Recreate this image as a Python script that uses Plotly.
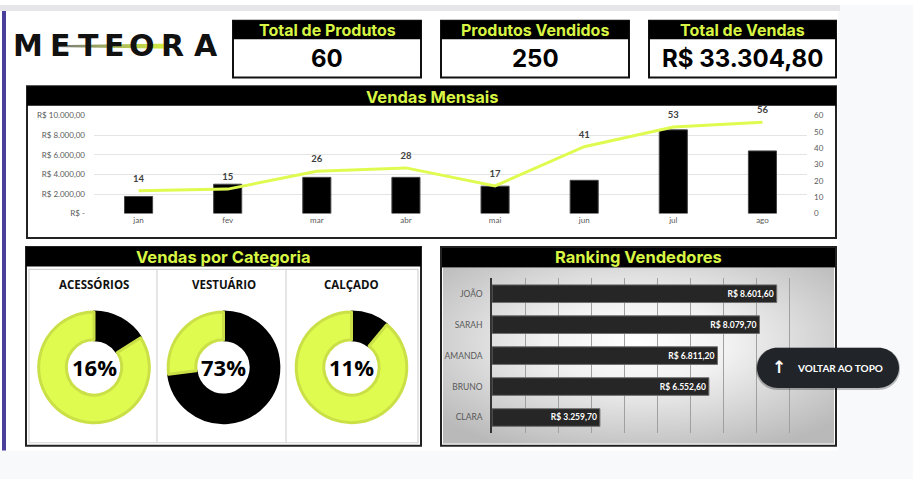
import base64
import plotly.graph_objects as go

W, H = 913, 484

# ---------------- data ----------------
kpi_titles = ["Total de Produtos", "Produtos Vendidos", "Total de Vendas"]
kpi_values = ["60", "250", "R$ 33.304,80"]

months = ["jan", "fev", "mar", "abr", "mai", "jun", "jul", "ago"]
month_sales = [1750, 3000, 3700, 3700, 2800, 3400, 8550, 6400]
month_units = [14, 15, 26, 28, 17, 41, 53, 56]
sales_tickvals = [0, 2000, 4000, 6000, 8000, 10000]
sales_ticktext = ["R$ -", "R$ 2.000,00", "R$ 4.000,00", "R$ 6.000,00", "R$ 8.000,00", "R$ 10.000,00"]
units_tickvals = [0, 10, 20, 30, 40, 50, 60]

categories = ["ACESSÓRIOS", "VESTUÁRIO", "CALÇADO"]
category_share = [16, 73, 11]

sellers = ["JOÃO", "SARAH", "AMANDA", "BRUNO", "CLARA"]
seller_sales = [8601.60, 8079.70, 6811.20, 6552.60, 3259.70]

# ---------------- styles ----------------
GREEN = "#e0fb50"
GREEN_TXT = "#d8f544"
GREEN_EDGE = "#cbe046"
GRAY_TXT = "#595959"


def X(p):
    return p / W


def Y(p):
    return 1 - p / H


def brl(v):
    s = f"{v:,.2f}".replace(",", "X").replace(".", ",").replace("X", ".")
    return "R$ " + s


shapes = []
annotations = []


def rect(x0, y0, x1, y1, fill=None, line=None, lw=0, layer="below"):
    d = dict(type="rect", xref="paper", yref="paper",
             x0=X(x0), x1=X(x1), y0=Y(y1), y1=Y(y0), layer=layer,
             line=dict(width=lw, color=line or "rgba(0,0,0,0)"))
    if fill:
        d["fillcolor"] = fill
    shapes.append(d)


def text(x, y, t, size, color="#000", family="Inter", weight=700, xanchor="center"):
    annotations.append(dict(x=X(x), y=Y(y), xref="paper", yref="paper", text=t,
                            showarrow=False, xanchor=xanchor, yanchor="middle",
                            font=dict(size=size, color=color, family=family, weight=weight)))


def pill(x0, y0, x1, y1, r):
    k = 0.5523 * r
    pts = [
        ("M", [(x0 + r, y0)]), ("L", [(x1 - r, y0)]),
        ("C", [(x1 - r + k, y0), (x1, y0 + r - k), (x1, y0 + r)]),
        ("L", [(x1, y1 - r)]),
        ("C", [(x1, y1 - r + k), (x1 - r + k, y1), (x1 - r, y1)]),
        ("L", [(x0 + r, y1)]),
        ("C", [(x0 + r - k, y1), (x0, y1 - r + k), (x0, y1 - r)]),
        ("L", [(x0, y0 + r)]),
        ("C", [(x0, y0 + r - k), (x0 + r - k, y0), (x0 + r, y0)]),
    ]
    s = ""
    for cmd, ps in pts:
        s += cmd + " " + " ".join(f"{X(a):.5f},{Y(b):.5f}" for a, b in ps) + " "
    return s + "Z"


# ---------------- page background ----------------
rect(838, 0, W, H, fill="#f8f9fb")
rect(0, 455, W, H, fill="#f8f9fb")
rect(0, 0, 840, 6, fill="#e6e5ea")
rect(2, 6, 6, 455, fill="#4b3f9c")

# ---------------- logo ----------------
logo_letters = ["M", "E", "T", "E", "O", "R", "A"]
logo_x = [28, 61, 88, 114, 142, 172, 206]
for ch, lx in zip(logo_letters, logo_x):
    text(lx, 41, ch, 30, "#111", family="DejaVu Sans", weight=700)
n = 24
c0 = (120, 120, 120)
c1 = (214, 240, 64)
for i in range(n):
    t = i / (n - 1)
    col = "rgb(%d,%d,%d)" % tuple(int(c0[j] + (c1[j] - c0[j]) * t) for j in range(3))
    xa = 58 + (168 - 58) * i / n
    xb = 58 + (168 - 58) * (i + 1) / n
    shapes.append(dict(type="line", xref="paper", yref="paper", x0=X(xa), x1=X(xb + 0.5),
                       y0=Y(42), y1=Y(42), line=dict(color=col, width=2 + 3 * t), layer="above"))

# ---------------- KPI boxes ----------------
kpi_x = [(233, 421), (441, 629), (649, 836)]
for (x0, x1), t, v in zip(kpi_x, kpi_titles, kpi_values):
    rect(x0, 16, x1, 74, fill="#ffffff", line="#111", lw=2)
    rect(x0, 16, x1, 35, fill="#000")
    text((x0 + x1) / 2, 26, t, 16, GREEN_TXT)
    text((x0 + x1) / 2, 55, v, 24, "#000")

# ---------------- monthly chart box ----------------
rect(27, 83, 836, 238, fill="#ffffff", line="#222", lw=2)
rect(27, 83, 836, 103, fill="#000")
text(432, 93.5, "Vendas Mensais", 16.5, GREEN_TXT)

# ---------------- category box ----------------
rect(26, 247, 421, 450, fill="#ffffff", line="#222", lw=2)
rect(26, 247, 421, 267, fill="#000")
text(223, 257, "Vendas por Categoria", 16.5, GREEN_TXT)
rect(29, 270, 418, 447, line="#d4d4d4", lw=1.2)
for sx in (157, 286):
    shapes.append(dict(type="line", xref="paper", yref="paper", x0=X(sx), x1=X(sx),
                       y0=Y(270), y1=Y(447), line=dict(color="#d4d4d4", width=1.2), layer="below"))

# ---------------- ranking box ----------------
rect(441, 247, 836, 268, fill="#000")
rect(441, 247, 836, 450, line="#222", lw=2)
text(638, 257.5, "Ranking Vendedores", 16.5, GREEN_TXT)

svg = ('<svg xmlns="http://www.w3.org/2000/svg" width="400" height="180" viewBox="0 0 400 180">'
       '<defs><radialGradient id="g" cx="50%" cy="42%" r="68%">'
       '<stop offset="0" stop-color="#ffffff"/><stop offset="0.35" stop-color="#f1f1f1"/>'
       '<stop offset="1" stop-color="#b9b9b9"/></radialGradient></defs>'
       '<rect width="400" height="180" fill="url(#g)"/></svg>')
src = "data:image/svg+xml;base64," + base64.b64encode(svg.encode()).decode()
images = [dict(source=src, xref="paper", yref="paper", x=X(443), y=Y(268),
               sizex=(834 - 443) / W, sizey=(448 - 268) / H, xanchor="left", yanchor="top",
               sizing="stretch", layer="below")]

# ---------------- button ----------------
shapes.append(dict(type="path", xref="paper", yref="paper", path=pill(756, 350, 900, 393, 21),
                   fillcolor="rgba(0,0,0,0.25)", line=dict(width=0), layer="above"))
shapes.append(dict(type="path", xref="paper", yref="paper", path=pill(757, 350, 899, 391, 20.5),
                   fillcolor="#212529", line=dict(width=0), layer="above"))
text(779, 370, "↑", 17, "#ffffff", family="DejaVu Sans", weight=700)
text(840, 371, "VOLTAR AO TOPO", 10, "#ffffff", family="Lato", weight=700)

# ---------------- traces ----------------
fig = go.Figure()

fig.add_trace(go.Bar(
    x=months, y=month_sales, xaxis="x", yaxis="y",
    marker=dict(color="#000000", line=dict(color="#444444", width=1)),
    hoverinfo="skip", showlegend=False))

fig.add_trace(go.Scatter(
    x=months, y=month_units, xaxis="x", yaxis="y2",
    mode="lines+markers+text", text=[str(v) for v in month_units],
    textposition="top center", cliponaxis=False,
    textfont=dict(size=9.5, color="#404040", family="Lato", weight=700),
    marker=dict(size=9, opacity=0), line=dict(color=GREEN, width=3),
    hoverinfo="skip", showlegend=False))

fig.add_trace(go.Bar(
    x=seller_sales, y=sellers, orientation="h", xaxis="x3", yaxis="y3",
    text=[brl(v) for v in seller_sales], textposition="inside", insidetextanchor="end",
    textangle=0, constraintext="none",
    textfont=dict(size=8.5, color="#ffffff", family="Lato", weight=700),
    marker=dict(color="#262626", line=dict(color="#6e6e6e", width=1)),
    width=0.57, hoverinfo="skip", showlegend=False))

pie_cx = [94, 223.5, 351.5]
pie_cy = 370
R = 56.5
for cx, cat, share in zip(pie_cx, categories, category_share):
    fig.add_trace(go.Pie(
        values=[share, 100 - share], hole=0.5, sort=False, direction="clockwise", rotation=0,
        marker=dict(colors=["#000000", GREEN], line=dict(color=["#000000", GREEN_EDGE], width=3)),
        textinfo="none", hoverinfo="skip", showlegend=False,
        domain=dict(x=[X(cx - R), X(cx + R)], y=[Y(pie_cy + R), Y(pie_cy - R)])))
    text(cx, 285, cat, 11.5, "#111", family="Open Sans", weight=700)
    text(cx, 370, f"{share}%", 22, "#000", family="Open Sans", weight=700)

fig.update_layout(
    width=W, height=H, margin=dict(l=0, r=0, t=0, b=0),
    paper_bgcolor="#ffffff", plot_bgcolor="rgba(0,0,0,0)",
    showlegend=False, bargap=0.685,
    shapes=shapes, annotations=annotations, images=images,
    xaxis=dict(domain=[X(94), X(807)], anchor="y", showgrid=False, ticks="",
               tickfont=dict(size=8, color=GRAY_TXT, family="Lato"), fixedrange=True),
    yaxis=dict(domain=[Y(213), Y(113)], anchor="x", range=[0, 10000],
               tickvals=sales_tickvals, ticktext=sales_ticktext,
               gridcolor="#e4e4e4", gridwidth=1, zeroline=False, ticks="",
               ticklabelstandoff=8,
               tickfont=dict(size=8, color=GRAY_TXT, family="Lato")),
    yaxis2=dict(overlaying="y", side="right", anchor="x", range=[0, 60],
                tickvals=units_tickvals, showgrid=False, zeroline=False, ticks="",
                ticklabelstandoff=6,
                tickfont=dict(size=8, color=GRAY_TXT, family="Lato")),
    xaxis3=dict(domain=[X(492), X(823)], anchor="y3", range=[0, 10000], dtick=1000,
                showgrid=True, gridcolor="#a0a0a0", gridwidth=1.3, zeroline=False,
                showticklabels=False, ticks=""),
    yaxis3=dict(domain=[Y(437), Y(279)], anchor="x3", autorange="reversed",
                categoryorder="array", categoryarray=sellers,
                showline=True, linecolor="#333333", linewidth=1.5, ticks="",
                ticklabelstandoff=6, showgrid=False,
                tickfont=dict(size=8.5, color=GRAY_TXT, family="Lato")),
)

fig.write_html("out.html", config={"displayModeBar": False},
               post_script="document.body.style.margin='0';document.body.style.overflow='hidden';")
